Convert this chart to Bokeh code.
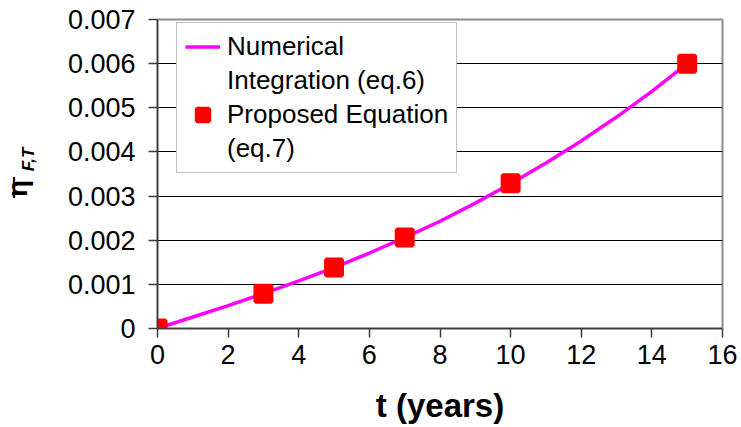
import math
from bokeh.plotting import figure
from bokeh.layouts import row
from bokeh.models import (Range1d, FixedTicker, CustomJSTickFormatter, Legend, LegendItem,
                          Label, ColumnDataSource)
from bokeh.embed import file_html
from bokeh.resources import INLINE

# ---- data ----
# Numerical integration curve (eq.6)
curve_t = [0, 1, 2, 3, 4, 5, 6, 7, 8, 9, 10, 11, 12, 13, 14, 15]
curve_eta = [0.0, 0.00026, 0.00052, 0.00079, 0.00108, 0.00138, 0.00171, 0.00206,
             0.00243, 0.00284, 0.00328, 0.00375, 0.00425, 0.00479, 0.00537, 0.00600]
# Proposed equation (eq.7) points
pts_t = [0, 3, 5, 7, 10, 15]
pts_eta = [0.0, 0.00079, 0.00138, 0.00206, 0.00329, 0.00600]

x_ticks = [0, 2, 4, 6, 8, 10, 12, 14, 16]
y_ticks = [0.0, 0.001, 0.002, 0.003, 0.004, 0.005, 0.006, 0.007]

x_title = "t (years)"
y_title_main = "\u03b7"
y_title_bar = "\u2014"
y_title_sub = "F,T"
legend_line_lines = ["Numerical", "Integration (eq.6)"]
legend_pts_lines = ["Proposed Equation", "(eq.7)"]

FONT = "Liberation Sans"
LEFT_W = 45
TOP, BOTTOM = 19, 99

# ---- side panel holding the rotated y-axis title ----
side = figure(width=LEFT_W, height=427, output_backend="svg", toolbar_location=None,
              x_range=Range1d(0, LEFT_W), y_range=Range1d(BOTTOM, 427 - TOP),
              x_axis_location=None, y_axis_location=None,
              min_border_left=0, min_border_right=0,
              min_border_top=TOP, min_border_bottom=BOTTOM)
side.outline_line_color = None
side.grid.visible = False
side.background_fill_color = "white"
side.border_fill_color = "white"
common = dict(angle=math.pi / 2, text_font=FONT, text_color="black",
              text_align="center", text_baseline="middle")
side.add_layout(Label(x=17, y=239, text=y_title_main, text_font_style="bold",
                      text_font_size="28px", **common))
side.add_layout(Label(x=10.5, y=240, text=y_title_bar, text_font_style="bold",
                      text_font_size="21px", **common))
side.add_layout(Label(x=27.5, y=268, text=y_title_sub, text_font_style="bold italic",
                      text_font_size="17px", **common))

# ---- main chart ----
p = figure(width=741 - LEFT_W, height=427, output_backend="svg", toolbar_location=None,
           x_range=Range1d(0, 16), y_range=Range1d(0, 0.007),
           min_border_left=157 - LEFT_W, min_border_right=19, min_border_top=TOP,
           min_border_bottom=BOTTOM)
p.background_fill_color = "white"
p.border_fill_color = "white"
p.outline_line_color = "#8c8c8c"
p.outline_line_width = 2

p.xgrid.visible = False
p.ygrid.ticker = FixedTicker(ticks=y_ticks)
p.ygrid.grid_line_color = "black"
p.ygrid.grid_line_width = 1

for ax in (p.xaxis[0], p.yaxis[0]):
    ax.axis_line_color = "#3c3c3c"
    ax.axis_line_width = 1.5
    ax.major_tick_line_color = "#3c3c3c"
    ax.major_tick_line_width = 1.5
    ax.major_tick_in = 0
    ax.major_tick_out = 9
    ax.minor_tick_line_color = None
    ax.major_label_text_font = FONT
    ax.major_label_text_font_size = "27px"
    ax.major_label_text_color = "black"

p.xaxis.ticker = FixedTicker(ticks=x_ticks)
p.xaxis.major_label_standoff = 7
p.xaxis.axis_label = x_title
p.xaxis.axis_label_text_font = FONT
p.xaxis.axis_label_text_font_style = "bold"
p.xaxis.axis_label_text_font_size = "33px"
p.xaxis.axis_label_text_color = "black"
p.xaxis.axis_label_standoff = 20

p.yaxis.ticker = FixedTicker(ticks=y_ticks)
p.yaxis.formatter = CustomJSTickFormatter(code="return tick == 0 ? '0' : tick.toFixed(3);")
p.yaxis.major_label_standoff = 13

src_line = ColumnDataSource(dict(t=curve_t, eta=curve_eta))
src_pts = ColumnDataSource(dict(t=pts_t, eta=pts_eta))
r_line = p.line("t", "eta", source=src_line, line_color="#ff00ff", line_width=3.5)
r_pts = p.scatter("t", "eta", source=src_pts, marker="square", size=16,
                  fill_color="#ff0000", line_color="#ff0000", line_width=4)

# legend-only blank swatches for the second text lines
empty = ColumnDataSource(dict(t=[], eta=[]))
r_blank1 = p.line("t", "eta", source=empty, line_alpha=0)
r_blank2 = p.line("t", "eta", source=empty, line_alpha=0)

legend = Legend(items=[LegendItem(label=legend_line_lines[0], renderers=[r_line]),
                       LegendItem(label=legend_line_lines[1], renderers=[r_blank1]),
                       LegendItem(label=legend_pts_lines[0], renderers=[r_pts]),
                       LegendItem(label=legend_pts_lines[1], renderers=[r_blank2])],
                location=(19, 155))
legend.label_text_font = FONT
legend.label_text_font_size = "26px"
legend.label_text_color = "black"
legend.border_line_color = "#808080"
legend.border_line_width = 1.5
legend.background_fill_color = "white"
legend.background_fill_alpha = 1
legend.padding = 8
legend.spacing = 3
legend.margin = 0
legend.glyph_width = 35
legend.glyph_height = 31
legend.label_height = 31
legend.label_standoff = 7
p.add_layout(legend)

open("out.html", "w").write(file_html(row(side, p), INLINE))
